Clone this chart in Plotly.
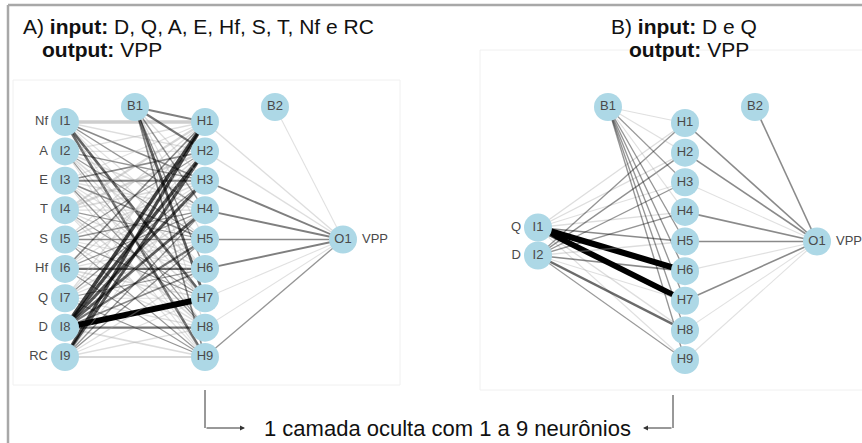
import plotly.graph_objects as go

# ---------------- data ----------------
# Panel A: 9 inputs -> 9 hidden -> 1 output
inputs_a = ["Nf", "A", "E", "T", "S", "Hf", "Q", "D", "RC"]
hidden_labels = ["H1", "H2", "H3", "H4", "H5", "H6", "H7", "H8", "H9"]
output_label = "VPP"

# weights input -> hidden (rows I1..I9, cols H1..H9)
w_ih_a = [
    [-0.50, -0.15, 0.20, 0.15, -0.10, -0.12, 0.40, -0.10, 0.35],
    [-0.15, -0.12, 0.15, -0.20, 0.12, -0.20, -0.15, 0.12, -0.10],
    [-0.12, 0.20, 0.25, -0.15, 0.20, -0.12, -0.18, 0.15, -0.12],
    [-0.30, -0.30, -0.20, -0.15, 0.12, -0.15, 0.12, -0.20, -0.12],
    [-0.15, 0.12, -0.20, 0.15, 0.20, -0.12, 0.15, -0.15, 0.12],
    [0.20, -0.15, -0.12, 0.12, -0.15, 0.35, -0.20, -0.12, 0.12],
    [-0.15, -0.12, 0.15, -0.20, -0.15, 0.12, -0.12, -0.15, 0.15],
    [0.55, 0.50, 0.45, 0.40, 0.30, 0.20, 1.00, 0.30, -0.20],
    [0.50, 0.45, -0.12, 0.15, 0.15, -0.15, -0.12, -0.15, -0.30],
]
w_bh_a = [0.25, 0.30, -0.15, 0.15, -0.12, 0.15, 0.40, -0.12, 0.20]
w_ho_a = [-0.15, -0.15, 0.25, 0.25, 0.20, 0.25, -0.10, -0.10, 0.15]
w_bo_a = -0.10

# Panel B: 2 inputs -> 9 hidden -> 1 output
inputs_b = ["Q", "D"]
w_ih_b = [
    [-0.15, -0.15, -0.12, -0.15, 0.20, 1.00, 0.95, -0.15, -0.12],
    [0.15, 0.18, 0.15, 0.15, -0.15, 0.20, -0.12, 0.35, 0.12],
]
w_bh_b = [-0.12, -0.12, 0.12, -0.12, 0.15, 0.15, 0.15, 0.15, 0.15]
w_ho_b = [0.20, 0.20, -0.10, 0.20, 0.20, -0.10, 0.20, -0.10, -0.10]
w_bo_b = 0.20

# ---------------- layout of the two networks ----------------
panel_a = dict(x_in=65, x_b1=135, x_hid=205, x_b2=275, x_out=343,
               y_top=122, y_bot=357, y_bias=107, in_gap=None)
panel_b = dict(x_in=538, x_b1=608, x_hid=685, x_b2=755, x_out=817,
               y_top=123, y_bot=360, y_bias=107, in_gap=28)

NODE_COLOR = "#add8e6"
FONT = "Liberation Sans, Arial, sans-serif"
TITLE_SIZE = 21

fig = go.Figure()


def edge_style(w, wmax):
    m = abs(w) / wmax
    width = 0.5 + 5.6 * m
    if w >= 0:
        col = f"rgba(0,0,0,{min(1, 0.3 + 0.8 * m):.2f})"
    else:
        col = f"rgba(165,165,165,{0.3 + 0.5 * m:.2f})"
    return col, width


def draw_net(p, in_names, w_ih, w_bh, w_ho, w_bo):
    n_h = len(hidden_labels)
    step = (p["y_bot"] - p["y_top"]) / (n_h - 1)
    hy = [p["y_top"] + i * step for i in range(n_h)]
    mid = (p["y_top"] + p["y_bot"]) / 2
    n_i = len(in_names)
    if p["in_gap"] is None:
        iy = hy[:n_i]
    else:
        g = p["in_gap"]
        iy = [mid - g * (n_i - 1) / 2 + k * g for k in range(n_i)]
    oy = mid
    allw = [abs(v) for row in w_ih for v in row] + [abs(v) for v in w_bh] \
        + [abs(v) for v in w_ho] + [abs(w_bo)]
    wmax = max(allw)

    def seg(x0, y0, x1, y1, w):
        col, wd = edge_style(w, wmax)
        fig.add_trace(go.Scatter(x=[x0, x1], y=[y0, y1], mode="lines",
                                 line=dict(color=col, width=wd),
                                 hoverinfo="skip", showlegend=False))

    for i in range(n_i):
        for j in range(n_h):
            seg(p["x_in"], iy[i], p["x_hid"], hy[j], w_ih[i][j])
    for j in range(n_h):
        seg(p["x_b1"], p["y_bias"], p["x_hid"], hy[j], w_bh[j])
    for j in range(n_h):
        seg(p["x_hid"], hy[j], p["x_out"], oy, w_ho[j])
    seg(p["x_b2"], p["y_bias"], p["x_out"], oy, w_bo)

    nx = [p["x_in"]] * n_i + [p["x_hid"]] * n_h + [p["x_b1"], p["x_b2"], p["x_out"]]
    ny = iy + hy + [p["y_bias"], p["y_bias"], oy]
    nt = [f"I{k+1}" for k in range(n_i)] + hidden_labels + ["B1", "B2", "O1"]
    fig.add_trace(go.Scatter(
        x=nx, y=ny, mode="markers+text", text=nt, textposition="middle center",
        marker=dict(size=28, color=NODE_COLOR, line=dict(width=0)),
        textfont=dict(family=FONT, size=13, color="#4a4a4a"),
        hoverinfo="skip", showlegend=False))
    # variable names beside input and output nodes
    fig.add_trace(go.Scatter(
        x=[p["x_in"] - 17] * n_i, y=iy, mode="text", text=in_names,
        textposition="middle left",
        textfont=dict(family=FONT, size=13, color="#4a4a4a"),
        hoverinfo="skip", showlegend=False))
    fig.add_trace(go.Scatter(
        x=[p["x_out"] + 19], y=[oy], mode="text", text=[output_label],
        textposition="middle right",
        textfont=dict(family=FONT, size=13, color="#4a4a4a"),
        hoverinfo="skip", showlegend=False))


draw_net(panel_a, inputs_a, w_ih_a, w_bh_a, w_ho_a, w_bo_a)
draw_net(panel_b, inputs_b, w_ih_b, w_bh_b, w_ho_b, w_bo_b)

shapes = [
    # plot backgrounds of the two networks
    dict(type="rect", x0=13, y0=80, x1=400, y1=385, line=dict(color="#f0f0f0", width=1), layer="below"),
    dict(type="rect", x0=480, y0=50, x1=870, y1=390, line=dict(color="#f0f0f0", width=1), layer="below"),
    # outer frame (left and top edges)
    dict(type="line", x0=8, y0=5, x1=8, y1=450, line=dict(color="#a8a8a8", width=2.5)),
    dict(type="line", x0=8, y0=5, x1=870, y1=5, line=dict(color="#a8a8a8", width=2.5)),
    # connector lines toward the caption
    dict(type="line", x0=205, y0=390, x1=205, y1=428, line=dict(color="#333333", width=1)),
    dict(type="line", x0=673, y0=395, x1=673, y1=428, line=dict(color="#333333", width=1)),
]

annotations = [
    dict(x=21, y=26, text="A) <b>input:</b> D, Q, A, E, Hf, S, T, Nf e RC",
         xanchor="left", yanchor="middle", showarrow=False,
         font=dict(family=FONT, size=TITLE_SIZE, color="#111111")),
    dict(x=40, y=49, text="<b>output:</b> VPP", xanchor="left", yanchor="middle",
         showarrow=False, font=dict(family=FONT, size=TITLE_SIZE, color="#111111")),
    dict(x=609, y=26, text="B) <b>input:</b> D e Q", xanchor="left", yanchor="middle",
         showarrow=False, font=dict(family=FONT, size=TITLE_SIZE, color="#111111")),
    dict(x=627, y=49, text="<b>output:</b> VPP", xanchor="left", yanchor="middle",
         showarrow=False, font=dict(family=FONT, size=TITLE_SIZE, color="#111111")),
    dict(x=447, y=428, text="1 camada oculta com 1 a 9 neurônios", xanchor="center",
         yanchor="middle", showarrow=False,
         font=dict(family=FONT, size=22, color="#111111")),
    dict(x=245, y=428, ax=205, ay=428, xref="x", yref="y", axref="x", ayref="y",
         text="", showarrow=True, arrowhead=2, arrowsize=1, arrowwidth=1,
         arrowcolor="#333333"),
    dict(x=643, y=428, ax=673, ay=428, xref="x", yref="y", axref="x", ayref="y",
         text="", showarrow=True, arrowhead=2, arrowsize=1, arrowwidth=1,
         arrowcolor="#333333"),
]

fig.update_layout(
    width=862, height=443, margin=dict(l=0, r=0, t=0, b=0),
    paper_bgcolor="white", plot_bgcolor="white",
    xaxis=dict(range=[0, 862], visible=False, fixedrange=True),
    yaxis=dict(range=[443, 0], visible=False, fixedrange=True),
    shapes=shapes, annotations=annotations, showlegend=False,
)

fig.write_html("out.html")
